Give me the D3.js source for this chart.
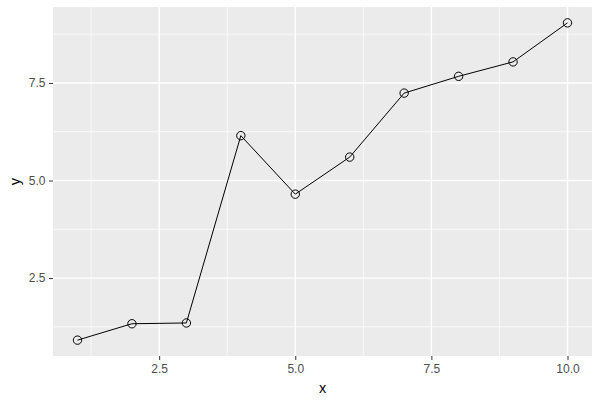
<!DOCTYPE html>
<html>
<head>
<meta charset="utf-8">
<script src="https://cdn.jsdelivr.net/npm/d3@7"></script>
<style>
  body { margin: 0; background: #fff; }
  text { font-family: "Liberation Sans", Arial, sans-serif; }
</style>
</head>
<body>
<script>
var width = 600,
    height = 400,
    margin = {top: 7, right: 8, bottom: 44, left: 53};

var xs = [1, 2, 3, 4, 5, 6, 7, 8, 9, 10];
var ys = [0.91, 1.33, 1.35, 6.15, 4.65, 5.60, 7.24, 7.67, 8.04, 9.04];
var xTicks = [2.5, 5.0, 7.5, 10.0];
var yTicks = [2.5, 5.0, 7.5];

var data = xs.map(function (d, i) { return {x: d, y: ys[i]}; });

// ggplot style 5% expansion
function expand(ext) {
    var pad = (ext[1] - ext[0]) * 0.05;
    return [ext[0] - pad, ext[1] + pad];
}

var x = d3.scaleLinear()
    .domain(expand(d3.extent(xs)))
    .range([margin.left, width - margin.right]);
var y = d3.scaleLinear()
    .domain(expand(d3.extent(ys)))
    .range([height - margin.bottom, margin.top]);

var svg = d3.select("body").append("svg")
    .attr("width", width)
    .attr("height", height);

// panel
svg.append("rect")
    .attr("x", margin.left)
    .attr("y", margin.top)
    .attr("width", width - margin.left - margin.right)
    .attr("height", height - margin.top - margin.bottom)
    .attr("fill", "#EBEBEB");

function minors(ticks, dom) {
    var step = ticks[1] - ticks[0], out = [];
    for (var v = ticks[0] - step / 2; v <= dom[1]; v += step) {
        if (v >= dom[0]) out.push(v);
    }
    return out;
}

var grid = svg.append("g");
grid.selectAll(".xminor").data(minors(xTicks, x.domain())).enter().append("line")
    .attr("x1", d => x(d)).attr("x2", d => x(d))
    .attr("y1", margin.top).attr("y2", height - margin.bottom)
    .attr("stroke", "#fff").attr("stroke-width", 0.7);
grid.selectAll(".yminor").data(minors(yTicks, y.domain())).enter().append("line")
    .attr("y1", d => y(d)).attr("y2", d => y(d))
    .attr("x1", margin.left).attr("x2", width - margin.right)
    .attr("stroke", "#fff").attr("stroke-width", 0.7);
grid.selectAll(".xmajor").data(xTicks).enter().append("line")
    .attr("x1", d => x(d)).attr("x2", d => x(d))
    .attr("y1", margin.top).attr("y2", height - margin.bottom)
    .attr("stroke", "#fff").attr("stroke-width", 1.4);
grid.selectAll(".ymajor").data(yTicks).enter().append("line")
    .attr("y1", d => y(d)).attr("y2", d => y(d))
    .attr("x1", margin.left).attr("x2", width - margin.right)
    .attr("stroke", "#fff").attr("stroke-width", 1.4);

// axes
var xAxis = d3.axisBottom(x).tickValues(xTicks).tickFormat(d3.format(".1f"))
    .tickSizeInner(4).tickSizeOuter(0).tickPadding(4);
var yAxis = d3.axisLeft(y).tickValues(yTicks).tickFormat(d3.format(".1f"))
    .tickSizeInner(4).tickSizeOuter(0).tickPadding(3.5);

var gx = svg.append("g")
    .attr("transform", "translate(0," + (height - margin.bottom) + ")")
    .call(xAxis);
var gy = svg.append("g")
    .attr("transform", "translate(" + margin.left + ",0)")
    .call(yAxis);
[gx, gy].forEach(function (g) {
    g.select(".domain").remove();
    g.selectAll(".tick line").attr("stroke", "#333333").attr("stroke-width", 1);
    g.selectAll(".tick text").attr("fill", "#4D4D4D").style("font-size", "12px");
});

svg.append("text")
    .attr("x", (margin.left + width - margin.right) / 2)
    .attr("y", 393)
    .attr("text-anchor", "middle")
    .style("font-size", "14.5px")
    .attr("fill", "#000")
    .text("x");
svg.append("text")
    .attr("transform", "translate(20," + ((margin.top + height - margin.bottom) / 2) + ") rotate(-90)")
    .attr("text-anchor", "middle")
    .style("font-size", "14.5px")
    .attr("fill", "#000")
    .text("y");

var line = d3.line()
    .x(d => x(d.x))
    .y(d => y(d.y));

svg.append("path")
    .attr("d", line(data))
    .attr("fill", "none")
    .attr("stroke", "#000")
    .attr("stroke-width", 1);

svg.selectAll(".pt").data(data).enter().append("circle")
    .attr("cx", d => x(d.x))
    .attr("cy", d => y(d.y))
    .attr("r", 4.2)
    .attr("fill", "none")
    .attr("stroke", "#000")
    .attr("stroke-width", 1);
</script>
</body>
</html>
